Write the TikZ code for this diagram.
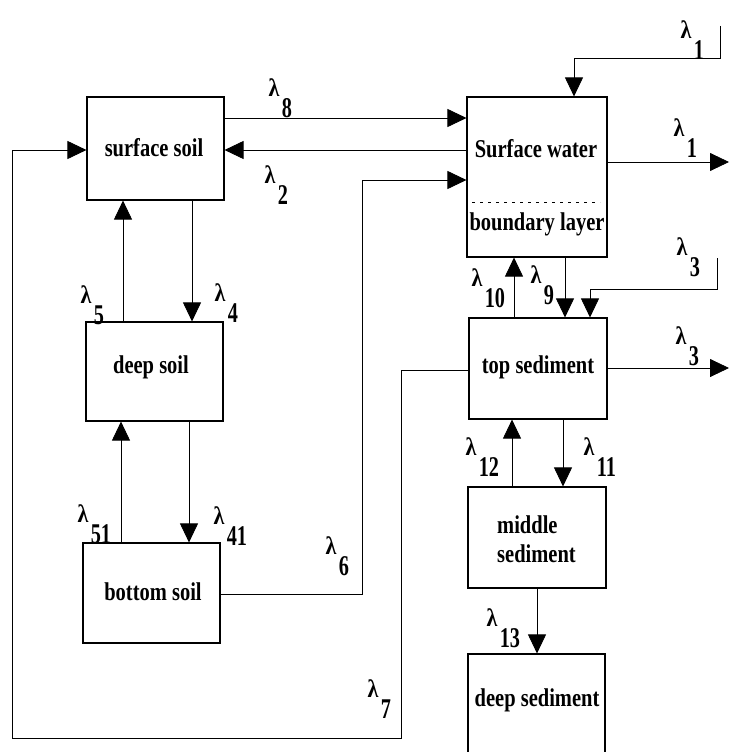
\documentclass[tikz,border=0pt]{standalone}
\usepackage{fontspec}
\usepackage{graphicx}
\setmainfont{Liberation Serif}
\usetikzlibrary{arrows.meta}
\newcommand{\tallt}[1]{\scalebox{1}[1.25]{#1}}
\newcommand{\lamlab}[3]{%
  \node[lamnode] (#1) at (#2) {\scalebox{1}[1.15]{λ}};
  \node[subnode] (#1n) at ([xshift=2pt,yshift=-1pt]#1.south east) {\scalebox{0.92}[1.3]{#3}};
}
\begin{document}
\begin{tikzpicture}[x=1pt,y=-1pt,
  box/.style={draw, line width=1.1pt, inner sep=0pt, rectangle},
  txt/.style={font=\fontsize{20.5}{24}\selectfont\bfseries, inner sep=0pt, anchor=base},
  lamnode/.style={font=\fontsize{22}{26}\selectfont\bfseries, inner sep=0pt},
  subnode/.style={font=\fontsize{22}{26}\selectfont\bfseries, inner sep=0pt, anchor=north west},
  arr/.style={line width=0.8pt, -{Triangle[length=19pt,width=18pt]}},
  ln/.style={line width=0.8pt}]
\useasboundingbox (0,0) rectangle (729,752);
\clip (0,0) rectangle (729,752);
\fill[white] (0,0) rectangle (729,752);

% boxes
\node[box, minimum width=137pt, minimum height=103pt] (ss) at (155.5,148.5) {};
\node[box, minimum width=137pt, minimum height=99pt] (ds) at (154.5,371.5) {};
\node[box, minimum width=137pt, minimum height=100pt] (bs) at (151.5,593) {};
\node[box, minimum width=140pt, minimum height=160pt] (sw) at (537,177) {};
\node[box, minimum width=138pt, minimum height=101pt] (ts) at (538,368.5) {};
\node[box, minimum width=138pt, minimum height=101pt] (ms) at (537,537.5) {};
\node[box, minimum width=137pt, minimum height=116pt] (dsed) at (536.5,712) {};

% texts
\node[txt] (tss) at (154,156) {\tallt{surface soil}};
\node[txt] (tds) at (151,373) {\tallt{deep soil}};
\node[txt] (tbs) at (153,600) {\tallt{bottom soil}};
\node[txt] (tsw) at (536,157) {\tallt{Surface water}};
\node[txt] (tbl) at (537,230) {\tallt{boundary layer}};
\node[txt] (tts) at (538,373) {\tallt{top sediment}};
\node[txt, anchor=base west] (tms1) at (497,533) {\tallt{middle}};
\node[txt, anchor=base west] (tms2) at (497,562) {\tallt{sediment}};
\node[txt] (tdsed) at (537,706) {\tallt{deep sediment}};

% dashed boundary
\coordinate (dl) at (472,202);
\coordinate (dr) at (600,202);
\draw[line width=0.7pt, dash pattern=on 3pt off 5pt] (dl) -- (dr);

% soil connectors
\draw[arr] (ss.east |- 0,118) -- (sw.west |- 0,118);
\draw[arr] (sw.west |- 0,150) -- (ss.east |- 0,150);
\draw[arr] (123,0 |- ds.north) -- (123,0 |- ss.south);
\draw[arr] (192,0 |- ss.south) -- (192,0 |- ds.north);
\draw[arr] (121,0 |- bs.north) -- (121,0 |- ds.south);
\draw[arr] (189,0 |- ds.south) -- (189,0 |- bs.north);
\draw[arr] (bs.east |- 0,594) -- (362,594) -- (362,180) -- (sw.west |- 0,180);
\draw[arr] (ts.west |- 0,370) -- (401,370) -- (401,738) -- (12,738) -- (12,150) -- (ss.west |- 0,150);

% water / sediment connectors
\coordinate (in1) at (720,26);
\draw[arr] (in1) -- (720,58) -- (574,58) -- (574,0 |- sw.north);
\coordinate (out1) at (729,162);
\draw[arr] (sw.east |- 0,162) -- (out1);
\draw[arr] (514,0 |- ts.north) -- (514,0 |- sw.south);
\draw[arr] (565,0 |- sw.south) -- (565,0 |- ts.north);
\coordinate (in3) at (717,258);
\draw[arr] (in3) -- (717,289) -- (590,289) -- (590,0 |- ts.north);
\coordinate (out3) at (729,368);
\draw[arr] (ts.east |- 0,368) -- (out3);
\draw[arr] (512,0 |- ms.north) -- (512,0 |- ts.south);
\draw[arr] (563,0 |- ts.south) -- (563,0 |- ms.north);
\draw[arr] (537,0 |- ms.south) -- (537,0 |- dsed.north);

% labels
\lamlab{l8}{274,88}{8}
\lamlab{l2}{270,175}{2}
\lamlab{l5}{86,295}{5}
\lamlab{l4}{220,293}{4}
\lamlab{l51}{83,514}{51}
\lamlab{l41}{219,516}{41}
\lamlab{l6}{331,546}{6}
\lamlab{l7}{373,689}{7}
\lamlab{l1a}{686,30}{1}
\lamlab{l1b}{679,128}{1}
\lamlab{l10}{477,278}{10}
\lamlab{l9}{536,275}{9}
\lamlab{l3a}{682,247}{3}
\lamlab{l3b}{681,336}{3}
\lamlab{l12}{471,447}{12}
\lamlab{l11}{589,447}{11}
\lamlab{l13}{492,618}{13}
\end{tikzpicture}
\end{document}
